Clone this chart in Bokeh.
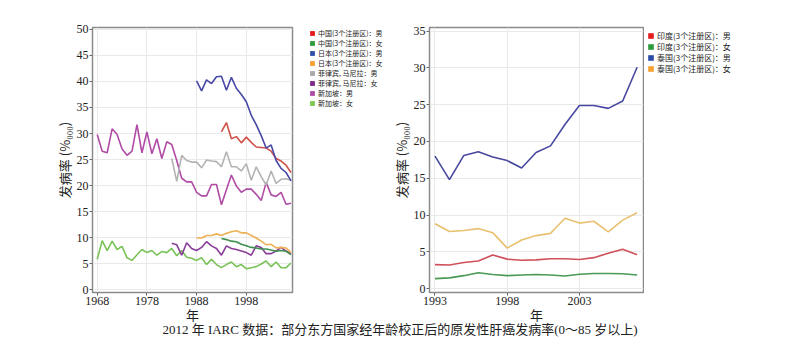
from bokeh.plotting import figure
from bokeh.models import Range1d, Legend, LegendItem, FixedTicker, Div
from bokeh.layouts import row, column
from bokeh.embed import file_html
from bokeh.resources import INLINE

# ---------------- data: left panel ----------------
years_all = list(range(1968, 2008))
years_phil = list(range(1983, 2008))
years_japan = list(range(1988, 2008))
years_china = list(range(1993, 2008))

china_m = [30.3, 32.1, 29.0, 29.4, 28.2, 29.3, 28.3, 27.4, 27.3, 27.2, 26.6, 25.2, 24.7, 23.9, 22.5]
china_f = [9.8, 9.6, 9.3, 9.2, 8.7, 8.4, 8.1, 8.0, 7.8, 7.8, 7.6, 7.35, 7.5, 7.35, 6.7]
japan_m = [40.1, 38.2, 40.3, 39.6, 40.9, 41.0, 38.3, 40.8, 38.7, 37.5, 36.1, 33.5, 31.7, 29.6, 27.2,
           27.8, 24.8, 23.3, 22.5, 20.9]
japan_f = [9.9, 9.9, 10.4, 10.4, 10.7, 10.4, 10.8, 11.1, 11.3, 10.9, 10.9, 10.4, 9.9, 9.3, 8.6,
           8.7, 8.0, 8.1, 8.0, 7.1]
phil_m = [25.2, 20.8, 25.8, 24.8, 24.5, 24.5, 23.4, 24.9, 24.7, 24.6, 23.6, 26.5, 23.6, 23.6, 22.8,
          24.2, 21.0, 23.6, 21.7, 20.1, 22.8, 20.4, 21.2, 21.3, 21.0]
phil_f = [8.9, 8.6, 6.6, 9.0, 7.9, 7.5, 8.1, 9.2, 8.4, 7.9, 6.6, 8.4, 7.9, 7.7, 7.4,
          7.1, 6.6, 8.4, 8.1, 6.9, 6.9, 7.4, 8.1, 7.4, 6.9]
sing_m = [29.8, 26.6, 26.3, 30.9, 29.8, 27.0, 25.8, 26.6, 31.7, 26.3, 30.3, 26.1, 29.0, 25.2, 28.4,
          27.9, 24.8, 21.4, 20.7, 20.7, 18.7, 18.0, 18.0, 20.2, 20.2, 16.3, 19.2, 22.0, 19.9, 18.7,
          19.3, 19.3, 18.3, 17.1, 20.6, 18.2, 17.9, 18.7, 16.4, 16.6]
sing_f = [5.8, 9.4, 7.5, 9.3, 7.7, 8.3, 6.1, 5.6, 6.7, 7.7, 7.1, 7.5, 6.6, 7.3, 7.1,
          7.9, 6.5, 7.5, 6.2, 6.0, 5.6, 6.1, 4.8, 5.8, 4.8, 4.2, 4.8, 5.3, 4.4, 4.8,
          4.0, 4.2, 4.4, 4.9, 5.5, 4.4, 5.3, 4.2, 4.2, 5.1]

left_labels = ["中国(3个注册区)：男", "中国(3个注册区)：女", "日本(3个注册区)：男", "日本(3个注册区)：女",
               "菲律宾, 马尼拉：男", "菲律宾, 马尼拉：女", "新加坡：男", "新加坡：女"]
left_xticks = [1968, 1978, 1988, 1998]
left_yticks = [0, 5, 10, 15, 20, 25, 30, 35, 40, 45, 50]

# ---------------- data: right panel ----------------
years_r = list(range(1993, 2008))
india_m = [3.25, 3.2, 3.55, 3.75, 4.55, 4.0, 3.85, 3.9, 4.05, 4.05, 3.95, 4.2, 4.8, 5.35, 4.6]
india_f = [1.35, 1.45, 1.75, 2.15, 1.9, 1.75, 1.85, 1.9, 1.85, 1.7, 1.95, 2.05, 2.05, 2.0, 1.85]
thai_m = [18.0, 14.8, 18.1, 18.6, 17.9, 17.4, 16.4, 18.5, 19.4, 22.3, 24.9, 24.9, 24.5, 25.5, 30.1]
thai_f = [8.8, 7.75, 7.9, 8.15, 7.6, 5.5, 6.6, 7.2, 7.5, 9.55, 8.9, 9.15, 7.7, 9.3, 10.3]

right_labels = ["印度(3个注册区)：男", "印度(3个注册区)：女", "泰国(3个注册区)：男", "泰国(3个注册区)：女"]
right_xticks = [1993, 1998, 2003]
right_yticks = [0, 5, 10, 15, 20, 25, 30, 35]

caption = "2012 年 IARC 数据：部分东方国家经年龄校正后的原发性肝癌发病率(0～85 岁以上)"

# ---------------- styling helpers ----------------
CJK = "Noto Sans CJK SC"
SERIF = "Liberation Serif"
H = 326
TOP = 27


def style(p, xticks, yticks):
    p.outline_line_color = "#8a8a8a"
    p.outline_line_width = 1.5
    p.background_fill_color = "#ffffff"
    p.border_fill_color = "#ffffff"
    p.xaxis.ticker = FixedTicker(ticks=xticks)
    p.yaxis.ticker = FixedTicker(ticks=yticks)
    p.grid.grid_line_color = "#e9e9e9"
    p.grid.grid_line_width = 1
    for ax in (p.xaxis, p.yaxis):
        ax.axis_line_color = None
        ax.major_tick_line_color = "#666666"
        ax.major_tick_out = 3
        ax.major_tick_in = 0
        ax.minor_tick_line_color = None
        ax.major_label_text_font = SERIF
        ax.major_label_text_font_size = "12px"
        ax.major_label_text_color = "#222222"
        ax.major_label_standoff = 1
        ax.axis_label_text_font = CJK
        ax.axis_label_text_font_size = "13px"
        ax.axis_label_text_font_style = "normal"
        ax.axis_label_text_color = "#222222"
    p.xaxis.axis_label = "年"
    p.xaxis.axis_label_standoff = -3
    p.yaxis.axis_label = "发病率 (%₀₀₀)"
    p.yaxis.axis_label_standoff = 0


def legend_figure(width, labels, colors, gap, font_size, glyph):
    # frameless figure that only carries a legend; its swatch renderers sit outside the view
    f = figure(width=width, height=H, output_backend="svg", toolbar_location=None,
               x_axis_location=None, y_axis_location=None,
               x_range=Range1d(0, 1), y_range=Range1d(0, 1),
               min_border_left=0, min_border_right=0, min_border_top=TOP, min_border_bottom=0)
    f.outline_line_color = None
    f.grid.visible = False
    f.background_fill_color = "#ffffff"
    f.border_fill_color = "#ffffff"
    items = []
    for lab, col in zip(labels, colors):
        r = f.quad(left=[-3], right=[-2], top=[-2], bottom=[-3], fill_color=col, line_color=None)
        items.append(LegendItem(label=lab, renderers=[r]))
    lg = Legend(items=items, location="top_left")
    lg.border_line_color = None
    lg.background_fill_alpha = 0
    lg.padding = 0
    lg.margin = gap
    lg.spacing = 0
    lg.glyph_width = glyph
    lg.glyph_height = glyph
    lg.label_height = glyph
    lg.label_standoff = 3
    lg.label_text_font = CJK
    lg.label_text_font_size = font_size
    lg.label_text_line_height = 0.8
    lg.label_text_color = "#222222"
    f.add_layout(lg, "center")
    return f


# ---------------- left figure ----------------
p1 = figure(width=308, height=H, output_backend="svg", toolbar_location=None,
            x_range=Range1d(1967.05, 2007.3), y_range=Range1d(-0.57, 50.38),
            min_border_left=92, min_border_right=16, min_border_top=TOP, min_border_bottom=23)
style(p1, left_xticks, left_yticks)

lw = 1.6
p1.line(years_all, sing_m, line_color="#b04ca6", line_width=lw)
p1.line(years_all, sing_f, line_color="#78c256", line_width=lw)
p1.line(years_phil, phil_m, line_color="#b3b3b3", line_width=lw)
p1.line(years_phil, phil_f, line_color="#8a3d98", line_width=lw)
p1.line(years_japan, japan_f, line_color="#f0b055", line_width=lw)
p1.line(years_china, china_f, line_color="#3f8f50", line_width=lw)
p1.line(years_china, china_m, line_color="#cf5148", line_width=lw)
p1.line(years_japan, japan_m, line_color="#4848a6", line_width=lw)

leg1 = legend_figure(80, left_labels,
                     ["#e41a1c", "#2c9a3c", "#2f4fa8", "#f5a030", "#a8a8a8", "#7a2a8a", "#b04ca6", "#7cc850"],
                     1, "7px", 6)

# ---------------- right figure ----------------
p2 = figure(width=256, height=H, output_backend="svg", toolbar_location=None,
            x_range=Range1d(1992.62, 2007.44), y_range=Range1d(-0.54, 35.5),
            min_border_left=37, min_border_right=1, min_border_top=TOP, min_border_bottom=23)
style(p2, right_xticks, right_yticks)

p2.line(years_r, thai_m, line_color="#4848a0", line_width=lw)
p2.line(years_r, thai_f, line_color="#e8c070", line_width=lw)
p2.line(years_r, india_m, line_color="#d0505a", line_width=lw)
p2.line(years_r, india_f, line_color="#4a9a55", line_width=lw)

leg2 = legend_figure(156, right_labels, ["#e41a1c", "#2a9a3a", "#2a4aa8", "#f5a030"],
                     3, "8px", 7)

cap = Div(text=caption, width=800, height=21, margin=(0, 0, 0, 0),
          styles={"font-family": "'Liberation Serif', 'Noto Sans CJK SC'", "font-size": "13px",
                  "text-align": "center", "width": "800px", "line-height": "7px",
                  "color": "#222222"})

layout = column(row(p1, leg1, p2, leg2, spacing=0), cap, spacing=0)
open("out.html", "w").write(file_html(layout, INLINE))
